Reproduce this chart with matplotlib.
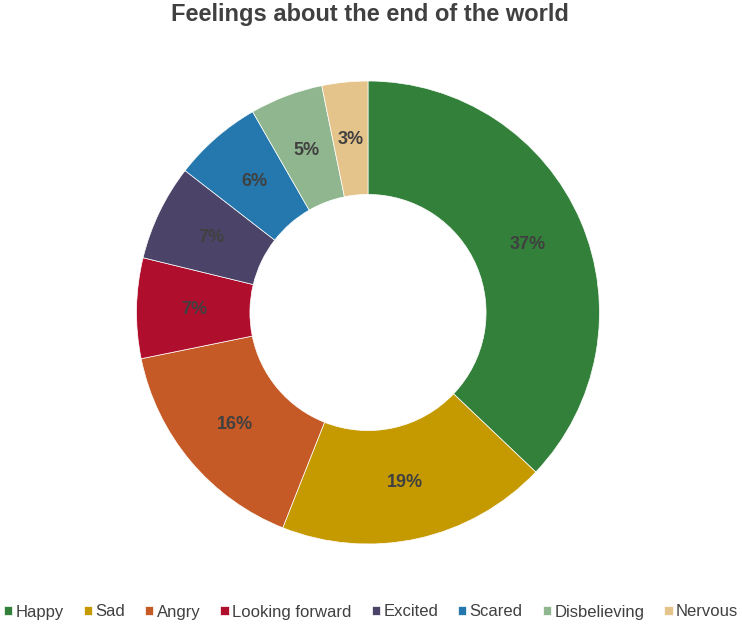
import matplotlib.pyplot as plt

# data
labels = ['Happy', 'Sad', 'Angry', 'Looking forward', 'Excited', 'Scared', 'Disbelieving', 'Nervous']
values = [37.1, 18.9, 15.8, 7.0, 6.7, 6.2, 5.1, 3.2]
colors = ['#33803A', '#C49A00', '#C55A27', '#B00E2D', '#4B4468', '#2478AE', '#8FB68E', '#E5C48C']

plt.rcParams['font.family'] = ['Liberation Sans', 'DejaVu Sans']

W, H = 742, 624
fig = plt.figure(figsize=(W / 100, H / 100), dpi=100)
cx, cy, r = 368, 312.5, 231.5
ax = fig.add_axes([(cx - r) / W, (H - cy - r) / H, 2 * r / W, 2 * r / H])

wedges, texts, autotexts = ax.pie(
    values, colors=colors, startangle=90, counterclock=False,
    radius=1, autopct='%1.0f%%', pctdistance=0.75,
    wedgeprops=dict(width=0.49, edgecolor='white', linewidth=0.5),
    textprops=dict(fontsize=13, fontweight='bold', color='#404040'))
ax.set_xlim(-1, 1)
ax.set_ylim(-1, 1)
ax.set_aspect('equal')
ax.axis('off')

fig.text(370 / W, 1 - 14 / H, 'Feelings about the end of the world', ha='center', va='center',
         fontsize=17, fontweight='bold', color='#404040')

fig.legend(wedges, labels, loc='center', bbox_to_anchor=(0.5, 1 - 612 / H), ncol=8,
           frameon=False, fontsize=12, handlelength=0.5, handleheight=0.5, handletextpad=0.2,
           columnspacing=1.2, borderpad=0.1, borderaxespad=0, labelcolor='#404040')

fig.savefig('out.png', dpi=100)
